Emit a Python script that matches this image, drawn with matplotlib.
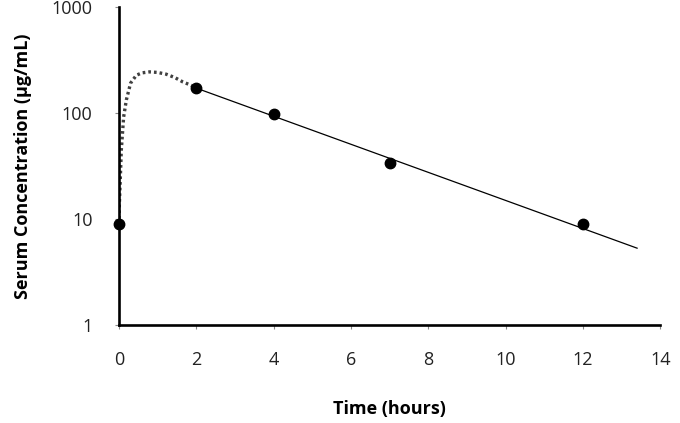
import matplotlib.pyplot as plt

# measured serum levels
times = [0, 2, 4, 7, 12]
conc = [8.9, 172, 98, 34, 9.0]

# fitted elimination line (solid)
fit_t = [2, 13.4]
fit_c = [172, 5.3]

# absorption phase sketch (dotted)
abs_t = [0, 0.01, 0.03, 0.06, 0.12, 0.19, 0.30, 0.45, 0.6, 0.79, 1.0, 1.22, 1.45, 1.65, 1.85, 2.0]
abs_c = [8.9, 14, 22, 45, 92, 133, 192, 228, 240, 245, 242, 233, 216, 197, 184, 173]

xticks = [0, 2, 4, 6, 8, 10, 12, 14]
yticks = [1, 10, 100, 1000]
ytick_labels = ['1', '10', '100', '1000']

plt.rcParams['font.family'] = ['Open Sans', 'DejaVu Sans']

fig = plt.figure(figsize=(6.8, 4.23), dpi=100)
ax = fig.add_axes([0.175, 0.232, 0.796, 0.751])

ax.plot(abs_t, abs_c, color='#404040', lw=2.4, linestyle=(0, (0.8, 0.9)), zorder=2)
ax.plot(fit_t, fit_c, color='black', lw=0.9, zorder=2)
ax.plot(times, conc, 'o', color='black', markersize=7.5, zorder=3, clip_on=False)

ax.set_yscale('log')
ax.set_xlim(0, 14)
ax.set_ylim(1, 1000)
ax.set_xticks(xticks)
ax.set_yticks(yticks)
ax.set_yticklabels(ytick_labels)
ax.minorticks_off()

for s in ['top', 'right']:
    ax.spines[s].set_visible(False)
for s in ['left', 'bottom']:
    ax.spines[s].set_linewidth(1.9)

ax.tick_params(axis='both', direction='out', length=3, width=0.8, color='#888888',
               labelsize=13, labelcolor='#222222', pad=16)

ax.set_xlabel('Time (hours)', fontsize=13, fontweight='bold', labelpad=22)
ax.set_ylabel('Serum Concentration (µg/mL)', fontsize=13, fontweight='bold', labelpad=14)

fig.savefig('out.png', dpi=100)
